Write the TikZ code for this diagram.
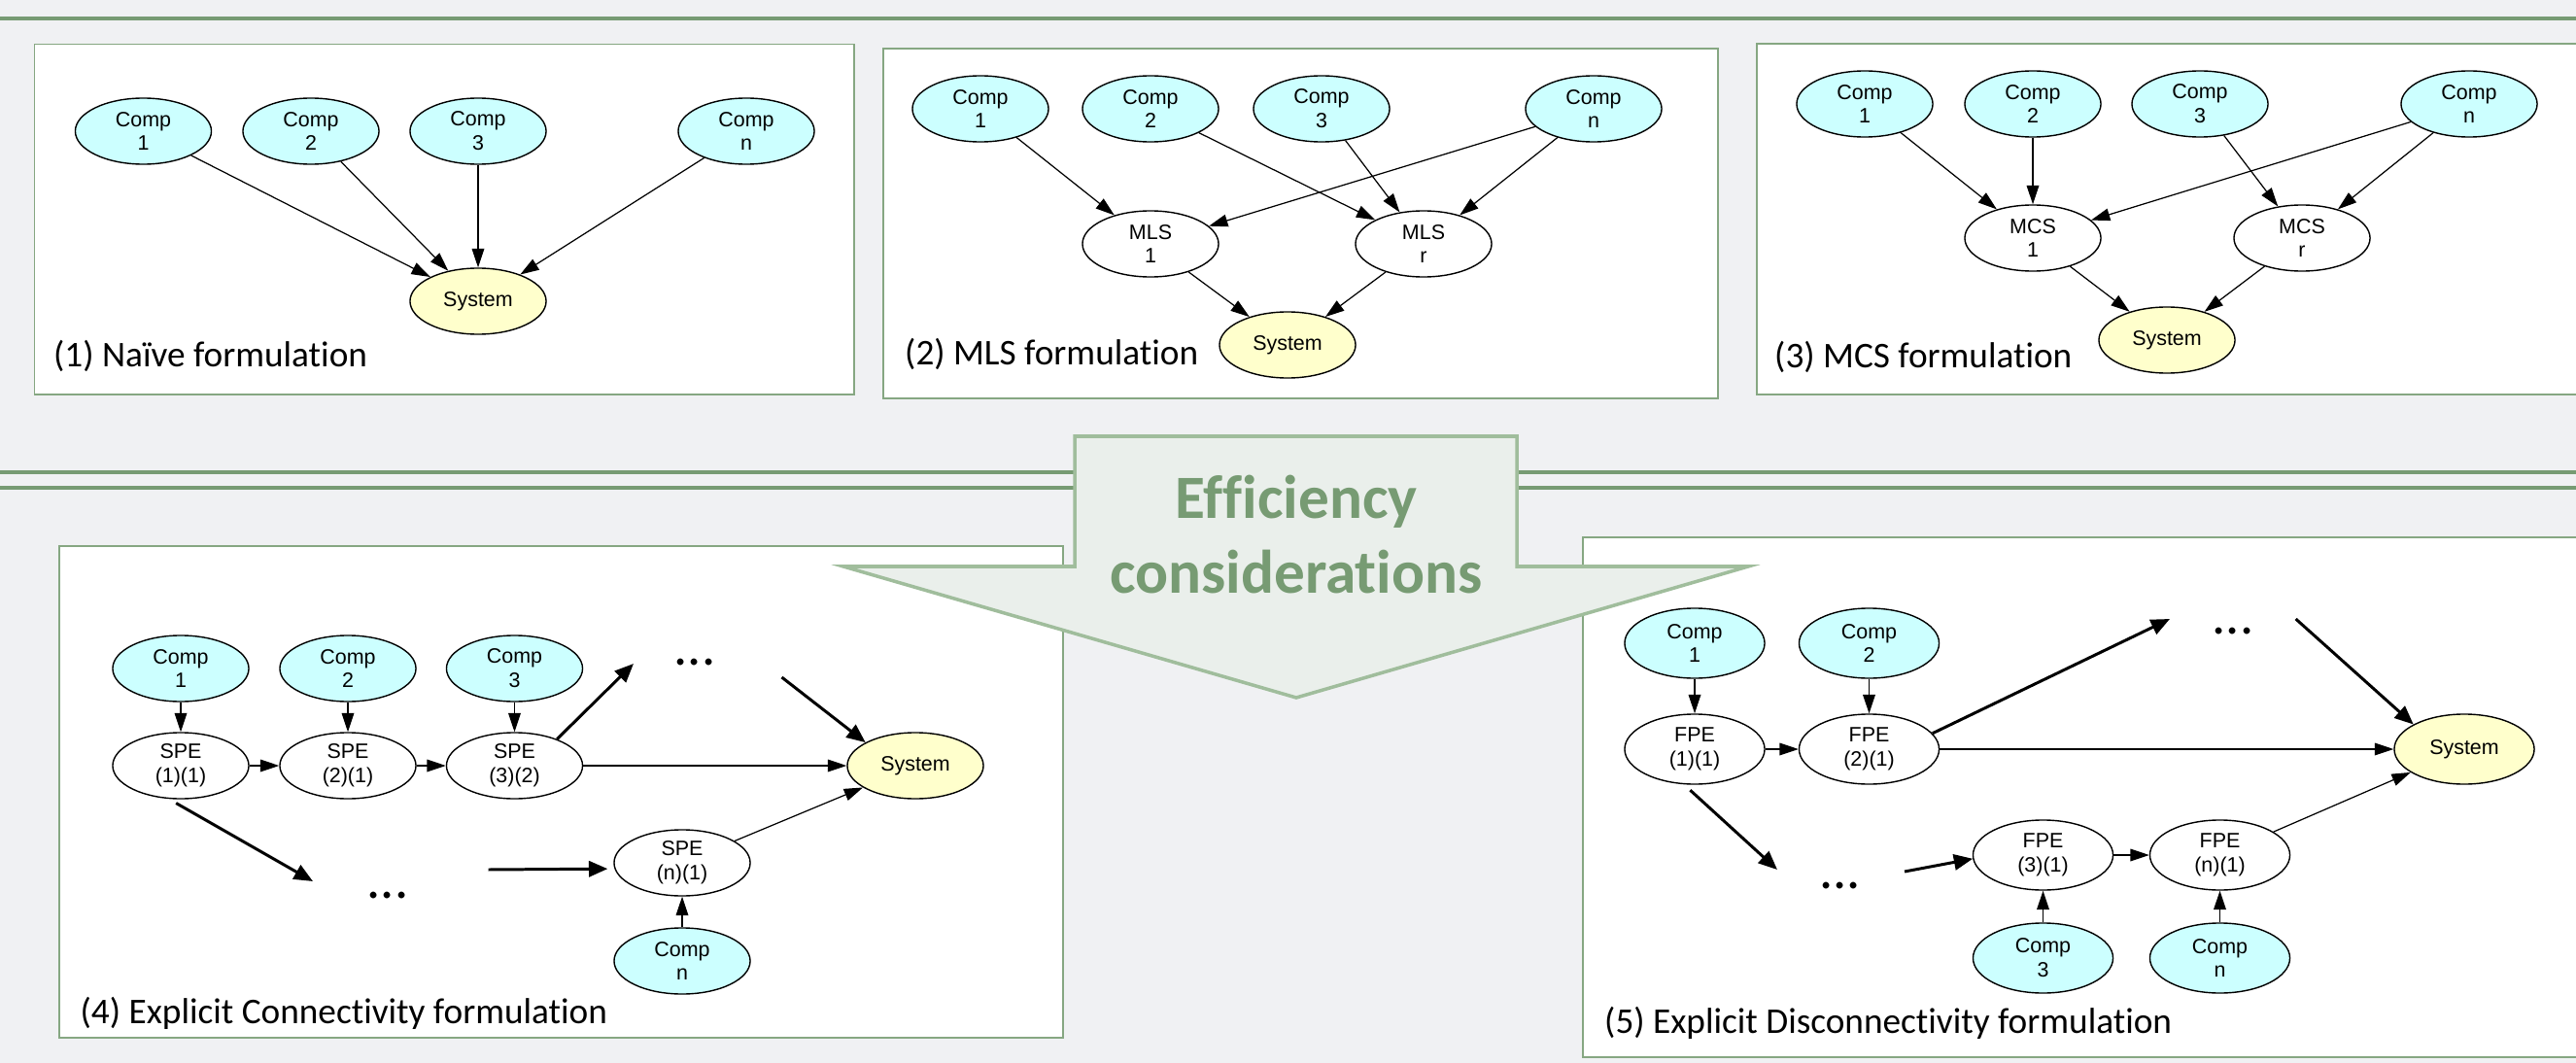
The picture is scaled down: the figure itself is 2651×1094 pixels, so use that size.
\documentclass[tikz,border=0pt]{standalone}
\usepackage{fontspec}
\setmainfont[Ligatures={TeX,NoCommon}]{Carlito}
\newfontfamily\nodefont{Liberation Sans}
\usepackage{xcolor}
\usepackage{tikz}
\usetikzlibrary{positioning, arrows.meta, shapes.geometric}
\definecolor{pagegray}{HTML}{F0F1F3}
\definecolor{rulegreen}{HTML}{779B73}
\definecolor{boxgreen}{HTML}{86A782}
\definecolor{arrowline}{HTML}{A0BD9C}
\definecolor{arrowfill}{HTML}{EAEFEB}
\definecolor{compcyan}{HTML}{CCFFFF}
\definecolor{sysyellow}{HTML}{FFFFCC}

\tikzset{
  bn/.style={ellipse, draw=black, line width=0.4pt, inner sep=0pt,
             minimum width=1.4cm, minimum height=0.68cm, align=center,
             font=\nodefont\fontsize{6.1}{7.1}\selectfont},
  comp/.style={bn, fill=compcyan},
  sysn/.style={bn, fill=sysyellow},
  pe/.style={bn, fill=white},
  wide/.style={minimum width=1.44cm, minimum height=0.72cm},
  link/.style={-{Triangle[length=5.5pt,width=3.6pt]}, line width=0.35pt},
  jump/.style={-{Triangle[length=5.5pt,width=4.6pt]}, line width=0.85pt},
  dotsn/.style={inner sep=0pt, font=\fontsize{16}{16}\selectfont},
  lbl/.style={anchor=base west, inner sep=0pt, font=\fontsize{10.6}{12}\selectfont},
  panel/.style={draw=boxgreen, fill=white, line width=0.45pt},
  efftxt/.style={anchor=base, inner sep=0pt, text=rulegreen,
                 font=\bfseries\fontsize{18}{22}\selectfont}
}

\begin{document}
\begin{tikzpicture}[x=0.01cm, y=-0.01cm]
  \useasboundingbox (0,0) rectangle (2651,1094);
  \clip (0,0) rectangle (2651,1094);
  \fill[pagegray] (0,0) rectangle (2651,1094);

  % rules and panels
  \draw[rulegreen, line width=0.95pt] (0,19) -- (2651,19);
  \draw[rulegreen, line width=1.1pt] (0,486) -- (2651,486) (0,502) -- (2651,502);
  \draw[panel] (35.5,45.5) rectangle (879,406);
  \draw[panel] (909,50) rectangle (1768,410);
  \draw[panel] (1808,45) rectangle (2700,406);
  \draw[panel] (61,562) rectangle (1094,1068);
  \draw[panel] (1629,553) rectangle (2700,1088);

  % (1) naive
  \node[comp] (p1c1) at (147.5,135) {Comp\\1};
  \node[comp] (p1c2) at (320,135) {Comp\\2};
  \node[comp] (p1c3) at (492,135) {Comp\\3};
  \node[comp] (p1cn) at (768,135) {Comp\\n};
  \node[sysn] (p1sys) at (492,310) {System};
  \draw[link] (p1c1) -- (p1sys);
  \draw[link] (p1c2) -- (p1sys);
  \draw[link] (p1c3) -- (p1sys);
  \draw[link] (p1cn) -- (p1sys);
  \node[lbl] (p1lbl) at (54.5,377) {(1) Naïve formulation};

  % (2) MLS
  \node[comp] (p2c1) at (1009,112) {Comp\\1};
  \node[comp] (p2c2) at (1184,112) {Comp\\2};
  \node[comp] (p2c3) at (1360,112) {Comp\\3};
  \node[comp] (p2cn) at (1640,112) {Comp\\n};
  \node[pe] (p2m1) at (1184,251) {MLS\\1};
  \node[pe] (p2mr) at (1465,251) {MLS\\r};
  \node[sysn] (p2sys) at (1325,355) {System};
  \draw[link] (p2c1) -- (p2m1);
  \draw[link] (p2cn) -- (p2m1);
  \draw[link] (p2c2) -- (p2mr);
  \draw[link] (p2c3) -- (p2mr);
  \draw[link] (p2cn) -- (p2mr);
  \draw[link] (p2m1) -- (p2sys);
  \draw[link] (p2mr) -- (p2sys);
  \node[lbl] (p2lbl) at (930.5,376) {(2) MLS formulation};

  % (3) MCS
  \node[comp] (p3c1) at (1919,107) {Comp\\1};
  \node[comp] (p3c2) at (2092,107) {Comp\\2};
  \node[comp] (p3c3) at (2264,107) {Comp\\3};
  \node[comp] (p3cn) at (2541,107) {Comp\\n};
  \node[pe] (p3m1) at (2092,245) {MCS\\1};
  \node[pe] (p3mr) at (2369,245) {MCS\\r};
  \node[sysn] (p3sys) at (2230,350) {System};
  \draw[link] (p3c1) -- (p3m1);
  \draw[link] (p3c2) -- (p3m1);
  \draw[link] (p3cn) -- (p3m1);
  \draw[link] (p3c3) -- (p3mr);
  \draw[link] (p3cn) -- (p3mr);
  \draw[link] (p3m1) -- (p3sys);
  \draw[link] (p3mr) -- (p3sys);
  \node[lbl] (p3lbl) at (1825.5,378) {(3) MCS formulation};

  % (4) explicit connectivity
  \node[comp] (p4c1) at (186,688) {Comp\\1};
  \node[comp] (p4c2) at (358,688) {Comp\\2};
  \node[comp] (p4c3) at (529.5,688) {Comp\\3};
  \node[pe] (p4s1) at (186,788) {SPE\\(1)(1)};
  \node[pe] (p4s2) at (358,788) {SPE\\(2)(1)};
  \node[pe] (p4s3) at (529.5,788) {SPE\\(3)(2)};
  \node[sysn] (p4sys) at (942,788) {System};
  \node[pe] (p4sn) at (702,888) {SPE\\(n)(1)};
  \node[comp] (p4cn) at (702,989) {Comp\\n};
  \node[dotsn] (p4up) at (715,682) {...};
  \node[dotsn] (p4low) at (399,922) {...};
  \coordinate (p4upin) at (652,683);
  \coordinate (p4upout) at (804.5,697);
  \coordinate (p4lowin) at (322,907);
  \coordinate (p4lowout) at (502.7,895);
  \draw[link] (p4c1) -- (p4s1);
  \draw[link] (p4c2) -- (p4s2);
  \draw[link] (p4c3) -- (p4s3);
  \draw[link] (p4s1) -- (p4s2);
  \draw[link] (p4s2) -- (p4s3);
  \draw[link] (p4s3) -- (p4sys);
  \draw[link] (p4cn) -- (p4sn);
  \draw[link] (p4sn) -- (p4sys);
  \draw[jump] (p4s3.32) -- (p4upin);
  \draw[jump] (p4upout) -- (p4sys.155);
  \draw[jump, shorten <=2.5pt] (p4s1.250) -- (p4lowin);
  \draw[jump, shorten >=2pt] (p4lowout) -- (p4sn.185);
  \node[lbl] (p4lbl) at (82,1053) {(4) Explicit Connectivity formulation};

  % (5) explicit disconnectivity
  \node[comp, wide] (p5c1) at (1744,662) {Comp\\1};
  \node[comp, wide] (p5c2) at (1923.5,662) {Comp\\2};
  \node[pe, wide] (p5f1) at (1744,771) {FPE\\(1)(1)};
  \node[pe, wide] (p5f2) at (1923.5,771) {FPE\\(2)(1)};
  \node[sysn, wide] (p5sys) at (2536,771) {System};
  \node[pe, wide] (p5f3) at (2102.5,880) {FPE\\(3)(1)};
  \node[pe, wide] (p5fn) at (2284.5,880) {FPE\\(n)(1)};
  \node[comp, wide] (p5c3) at (2102.5,986) {Comp\\3};
  \node[comp, wide] (p5cn) at (2284.5,986) {Comp\\n};
  \node[dotsn] (p5up) at (2298,650) {...};
  \node[dotsn] (p5low) at (1893.6,912) {...};
  \coordinate (p5upin) at (2233,637);
  \coordinate (p5upout) at (2362.6,637);
  \coordinate (p5lowin) at (1829,895);
  \coordinate (p5lowout) at (1960,897);
  \draw[link] (p5c1) -- (p5f1);
  \draw[link] (p5c2) -- (p5f2);
  \draw[link] (p5f1) -- (p5f2);
  \draw[link] (p5f2) -- (p5sys);
  \draw[link] (p5f3) -- (p5fn);
  \draw[link] (p5c3) -- (p5f3);
  \draw[link] (p5cn) -- (p5fn);
  \draw[link] (p5fn) -- (p5sys);
  \draw[jump] (p5f2.14) -- (p5upin);
  \draw[jump] (p5upout) -- (p5sys.154);
  \draw[jump, shorten <=2.5pt] (p5f1.253) -- (p5lowin);
  \draw[jump] (p5lowout) -- (p5f3.183);
  \node[lbl] (p5lbl) at (1650.5,1063) {(5) Explicit Disconnectivity formulation};

  % block arrow
  \draw[draw=arrowline, fill=arrowfill, line width=1pt, line join=miter]
    (1106,449) -- (1561,449) -- (1561,583) -- (1799,583) -- (1334,718)
    -- (868,583) -- (1106,583) -- cycle;
  \node[efftxt] (effa) at (1334,533) {Efficiency};
  \node[efftxt] (effb) at (1334,610) {considerations};
\end{tikzpicture}
\end{document}
